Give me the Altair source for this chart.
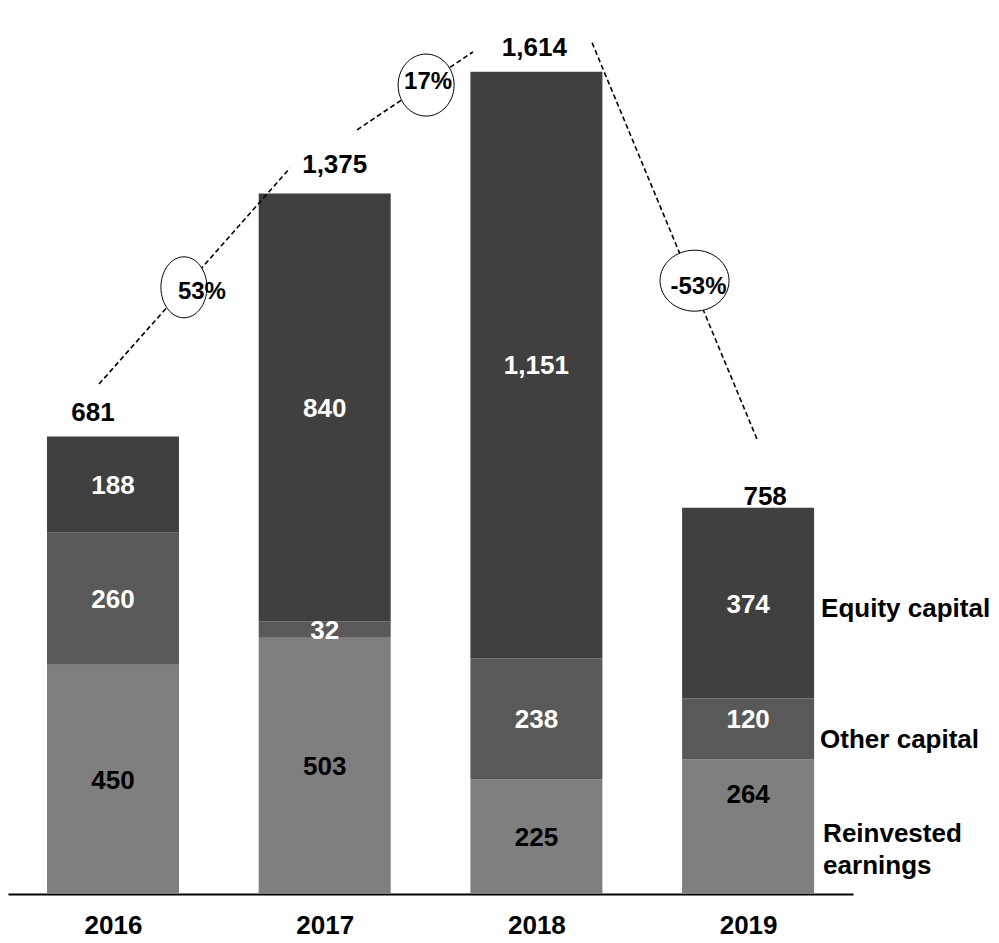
import altair as alt
import pandas as pd

# ---------------- data ----------------
years = [2016, 2017, 2018, 2019]
series = ["Reinvested earnings", "Other capital", "Equity capital"]
reinvested = [450, 503, 225, 264]
other_capital = [260, 32, 238, 120]
equity_capital = [188, 840, 1151, 374]
totals = [681, 1375, 1614, 758]
growth_labels = ["53%", "17%", "-53%"]
legend_labels = ["Reinvested\nearnings", "Other capital", "Equity capital"]

# annotation geometry in data units (year, value)
conn_x = [(2015.934, 2016.836), (2017.153, 2017.700), (2018.263, 2019.042)]
conn_y = [(1001, 1425), (1500, 1653), (1671, 893)]
bubble_x = [2016.335, 2017.479, 2018.747]
bubble_y = [1191, 1588, 1204]

# ---------------- layout / style ----------------
W, H = 845, 886
PXV = 0.5094                # px per unit
Y_MAX = H / PXV
X_MIN, X_MAX = 2015.504, 2019.4955
PXY = W / (X_MAX - X_MIN)   # px per year
FONT = "Liberation Sans"
FS = 26
colors = ["#7f7f7f", "#595959", "#404040"]
text_colors = ["black", "white", "white"]

# label nudges in pixels (dx, dy)
seg_nudge = {(2019, "Other capital"): (0, -10), (2019, "Reinvested earnings"): (0, -33)}
total_nudge = [(-20, -25), (10, -30), (-2, -25), (17, -12)]
legend_nudge = {"Reinvested earnings": (75, 6), "Other capital": (72, 10), "Equity capital": (73, 4)}
bubble_shape = [(46, 61), (56, 62), (69, 61)]
bubble_text_nudge = [(18, 3), (2, -5), (4, 5)]

# ---------------- tables ----------------
vals = [reinvested, other_capital, equity_capital]
rows = []
for i, yr in enumerate(years):
    base = 0
    for s, name in enumerate(series):
        v = vals[s][i]
        dx, dy = seg_nudge.get((yr, name), (0, 0))
        rows.append({
            "year": yr, "series": name, "value": v,
            "y0": base, "y1": base + v,
            "lx": yr + dx / PXY,
            "ly": base + v / 2 - (dy + 1.5) / PXV,
            "label": f"{v:,}", "tcolor": text_colors[s],
        })
        base += v
seg = pd.DataFrame(rows)

tops = seg.groupby("year")["y1"].max().tolist()
tot = pd.DataFrame({
    "year": years,
    "label": [f"{t:,}" for t in totals],
    "lx": [y + total_nudge[i][0] / PXY for i, y in enumerate(years)],
    "ly": [tops[i] - (total_nudge[i][1] + 1.5) / PXV for i in range(4)],
})

last = seg[seg["year"] == 2019]
leg = pd.DataFrame({
    "label": legend_labels,
    "lx": [2019 + legend_nudge[n][0] / PXY for n in series],
    "ly": [((r.y0 + r.y1) / 2) - (legend_nudge[r.series][1] + 1.5) / PXV for r in last.itertuples()],
})

conn = pd.DataFrame({
    "x": [c[0] for c in conn_x], "x2": [c[1] for c in conn_x],
    "y": [c[0] for c in conn_y], "y2": [c[1] for c in conn_y],
})

# ---------------- encodings ----------------
xaxis = alt.Axis(values=years, format="d", title=None, grid=False, ticks=False, tickSize=0,
                 domainColor="black", domainWidth=2, labelFont=FONT, labelFontSize=FS,
                 labelFontWeight="bold", labelColor="black", labelPadding=18, labelFlush=False)
xscale = alt.Scale(domain=[X_MIN, X_MAX], nice=False, zero=False, padding=0)
yscale = alt.Scale(domain=[0, Y_MAX], nice=False, zero=True, padding=0)


def X(field):
    return alt.X(f"{field}:Q", scale=xscale, axis=xaxis)


def Y(field):
    return alt.Y(f"{field}:Q", scale=yscale, axis=None)


bars = alt.Chart(seg).mark_bar(size=132).encode(
    x=X("year"), y=Y("y1"), y2="y0",
    color=alt.Color("series:N", scale=alt.Scale(domain=series, range=colors), legend=None),
)

seg_text = alt.Chart(seg).mark_text(font=FONT, fontSize=FS, fontWeight="bold", baseline="middle").encode(
    x=X("lx"), y=Y("ly"), text="label:N", color=alt.Color("tcolor:N", scale=None),
)

tot_text = alt.Chart(tot).mark_text(font=FONT, fontSize=FS, fontWeight="bold", baseline="middle",
                                    color="black").encode(
    x=X("lx"), y=Y("ly"), text="label:N",
)

leg_text = alt.Chart(leg).mark_text(font=FONT, fontSize=FS, fontWeight="bold", baseline="middle",
                                    align="left", color="black", lineBreak="\n", lineHeight=32).encode(
    x=X("lx"), y=Y("ly"), text="label:N",
)

lines = alt.Chart(conn).mark_rule(color="black", strokeWidth=1.6, strokeDash=[5, 3]).encode(
    x=X("x"), x2="x2", y=Y("y"), y2="y2",
)

layers = [bars, seg_text, tot_text, leg_text, lines]

for i, g in enumerate(growth_labels):
    w, h = bubble_shape[i]
    r = w / h
    path = f"M {-r},0 A {r},1 0 1,0 {r},0 A {r},1 0 1,0 {-r},0 Z"
    bdf = pd.DataFrame({"x": [bubble_x[i]], "y": [bubble_y[i]], "label": [g]})
    layers.append(
        alt.Chart(bdf).mark_point(shape=path, size=h * h, filled=True, color="white",
                                  stroke="black", strokeWidth=1, opacity=1).encode(x=X("x"), y=Y("y"))
    )
    dx, dy = bubble_text_nudge[i]
    layers.append(
        alt.Chart(bdf).mark_text(font=FONT, fontSize=24, fontWeight="bold", baseline="middle",
                                 color="black", dx=dx, dy=dy + 1.5).encode(x=X("x"), y=Y("y"), text="label:N")
    )

chart = alt.layer(*layers).properties(
    width=W, height=H, autosize="none", background="white",
    padding={"left": 0, "top": 0, "right": 138, "bottom": 40},
).configure_view(stroke=None)

chart.save("out.html", embed_options={"renderer": "svg", "actions": False})
